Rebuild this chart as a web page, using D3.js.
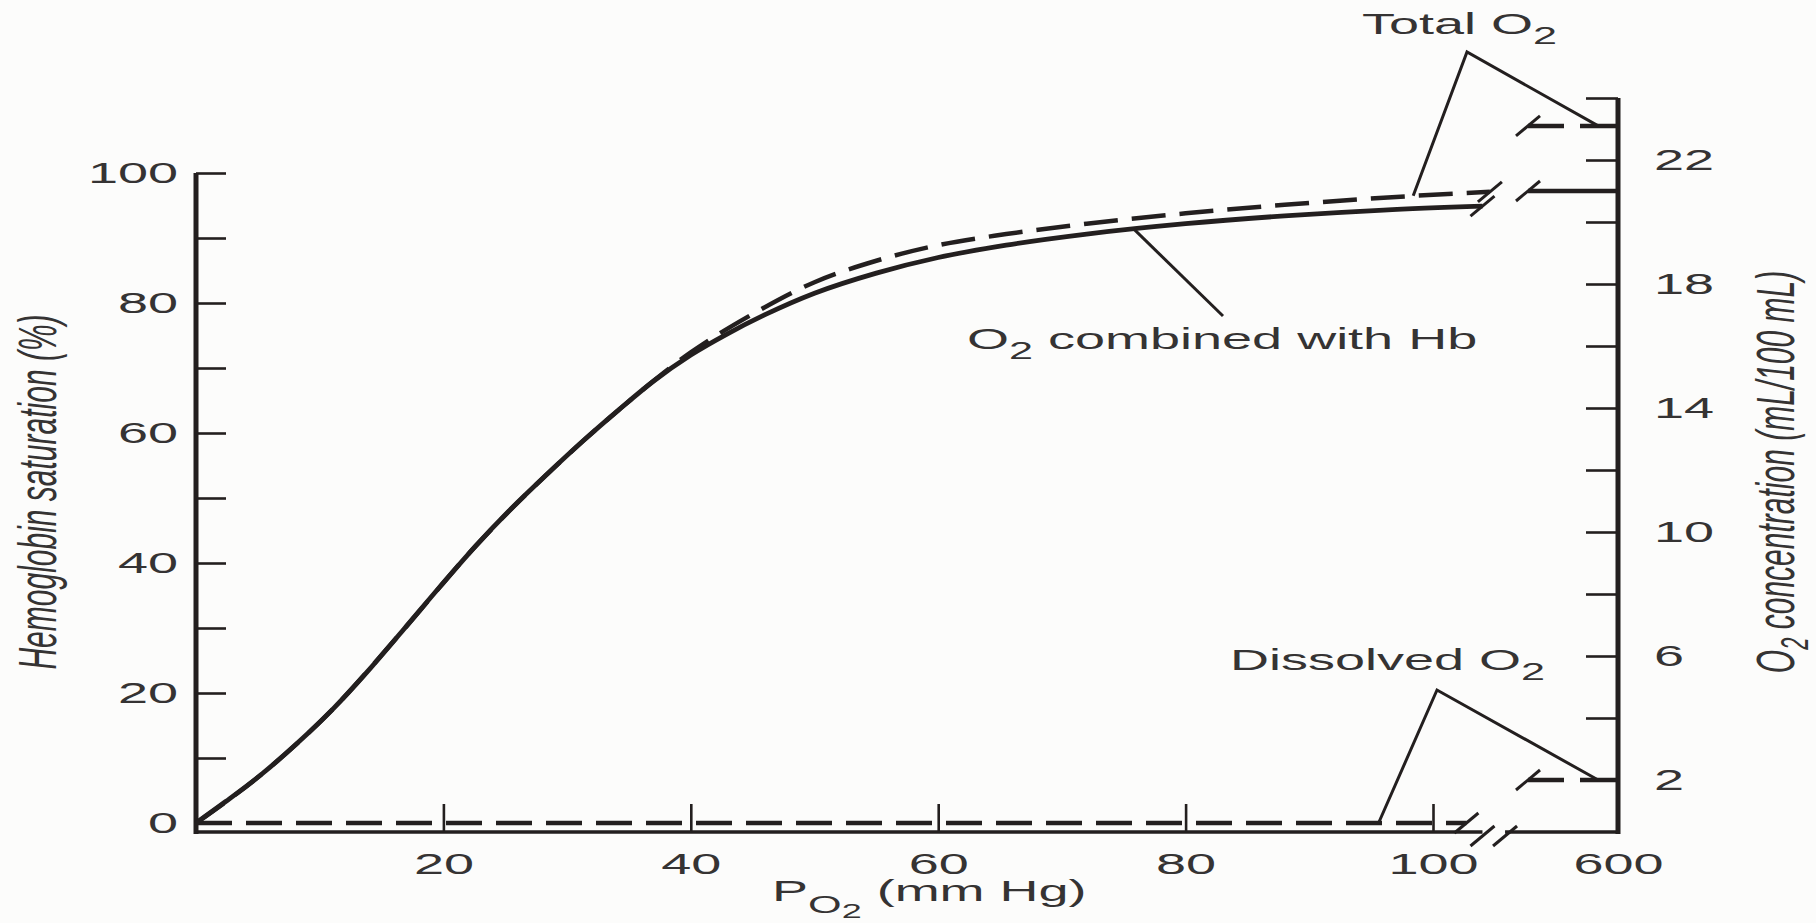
<!DOCTYPE html>
<html>
<head>
<meta charset="utf-8">
<script src="https://cdn.jsdelivr.net/npm/d3@7"></script>
<style>
  body { margin: 0; background: #fcfcfb; }
  svg { display: block; }
  text { font-family: "Liberation Sans", Arial, sans-serif; fill: #353333; }
</style>
</head>
<body>
<script>
const W = 1816, H = 923;
const SX = 1.8;          // lettering in the scan is stretched sideways
const ink = '#231f1f';

// O2 combined with Hb (% saturation) against PO2 (mm Hg)
const hbPO2 = [0, 2.4, 5.3, 8.2, 11.1, 14, 16.8, 19.7, 22.6, 25.5, 28.4, 31.3, 34.2, 37, 40, 43, 46, 50, 55, 60, 65.5, 72, 80, 88, 96, 104];
const hbSat = [0, 3.3, 7.5, 12.3, 17.6, 23.6, 29.8, 36.3, 42.6, 48.4, 53.7, 58.8, 63.6, 68, 72, 75.3, 78.2, 81.5, 84.6, 87, 88.9, 90.6, 92.2, 93.4, 94.3, 94.9];
// total O2 (dashed), same axis
const totalPO2 = [0, 5.3, 11.1, 16.8, 22.6, 28.4, 34.2, 40, 45, 50, 55, 60, 65.5, 72, 80, 88, 96, 104.6];
const totalSat = [0, 7.5, 17.6, 29.8, 42.6, 53.7, 63.6, 72.4, 78.3, 83.2, 86.5, 88.9, 90.6, 92.2, 93.8, 95.1, 96.2, 97.1];
// dissolved O2 (dashed) near the bottom
const dissolvedPO2 = [0, 102.7];
const dissolvedSat = [0, 0];
// past the axis break, read on the right axis (mL/100 mL)
const highPO2 = [500, 600];
const hbHigh = 21.0, totalHigh = 23.1, dissolvedHigh = 2.0;

const xTicks = [20, 40, 60, 80, 100];
const leftTicks = d3.range(0, 101, 10);
const leftLabels = [0, 20, 40, 60, 80, 100];
const rightTicks = d3.range(2, 25, 2);
const rightLabels = [2, 6, 10, 14, 18, 22];

const svg = d3.select('body').append('svg')
    .attr('width', W)
    .attr('height', H);

const xLo = d3.scaleLinear().domain([0, 100]).range([196, 1433]);
const xHi = d3.scaleLinear().domain([500, 600]).range([1528, 1618]);
const yL = d3.scaleLinear().domain([0, 100]).range([823, 173]);
const yR = d3.scaleLinear().domain([0, 24]).range([842, 98]);
const axisY = 832;

// stretch the tick labels like the scan
function stretch(sel) {
    sel.each(function() {
        const t = d3.select(this);
        const x = +t.attr('x') || 0, y = +t.attr('y') || 0;
        t.attr('x', null).attr('y', null)
            .attr('transform', `translate(${x},${y}) scale(${SX},1)`);
    });
}

function styleAxis(g) {
    g.attr('font-size', 30).attr('font-family', null);
    g.select('.domain').remove();
    g.selectAll('.tick line').attr('stroke', ink).attr('stroke-width', 2.6);
    g.selectAll('.tick text').attr('fill', '#353333');
    stretch(g.selectAll('.tick text'));
}

// x axis, low part
const gx = svg.append('g')
    .attr('transform', `translate(0,${axisY})`)
    .call(d3.axisBottom(xLo).tickValues(xTicks).tickSize(-28).tickPadding(21).tickSizeOuter(0));
styleAxis(gx);

// x axis, high part
const gx2 = svg.append('g')
    .attr('transform', `translate(0,${axisY})`)
    .call(d3.axisBottom(xHi).tickValues([600]).tickSize(0).tickPadding(21));
styleAxis(gx2);

// left axis
const gy = svg.append('g')
    .attr('transform', `translate(${xLo(0)},0)`)
    .call(d3.axisLeft(yL).tickValues(leftTicks).tickSize(-30).tickPadding(18)
        .tickFormat(d => leftLabels.includes(d) ? d : ''));
styleAxis(gy);

// right axis
const gy2 = svg.append('g')
    .attr('transform', `translate(${xHi(600)},0)`)
    .call(d3.axisRight(yR).tickValues(rightTicks).tickSize(-32).tickPadding(36)
        .tickFormat(d => rightLabels.includes(d) ? d : ''));
styleAxis(gy2);

// axis lines, with the break on the bottom one
const lines = svg.append('g').attr('stroke', ink).attr('fill', 'none').attr('stroke-linecap', 'butt');
const breakLo = xLo(104), breakHi = xHi(474.5);
lines.append('line').attr('x1', xLo(0)).attr('x2', breakLo).attr('y1', axisY).attr('y2', axisY).attr('stroke-width', 3.5);
lines.append('line').attr('x1', breakHi).attr('x2', xHi(600)).attr('y1', axisY).attr('y2', axisY).attr('stroke-width', 3.5);
lines.append('line').attr('x1', xLo(0)).attr('x2', xLo(0)).attr('y1', yL(100)).attr('y2', axisY + 2).attr('stroke-width', 5);
lines.append('line').attr('x1', xHi(600)).attr('x2', xHi(600)).attr('y1', yR(24)).attr('y2', axisY + 2).attr('stroke-width', 5);

function slash(cx, cy) {
    lines.append('line')
        .attr('x1', cx - 12).attr('y1', cy + 10)
        .attr('x2', cx + 12).attr('y2', cy - 10)
        .attr('stroke-width', 3);
}
slash(breakLo, axisY + 4);
slash(breakHi, axisY + 4);

// curves
const lineLo = d3.line().x(d => xLo(d[0])).y(d => yL(d[1])).curve(d3.curveMonotoneX);
const lineHi = d3.line().x(d => xHi(d[0])).y(d => yR(d[1]));

const hbData = d3.zip(hbPO2, hbSat);
const totalData = d3.zip(totalPO2, totalSat);
const dissolvedData = d3.zip(dissolvedPO2, dissolvedSat);

lines.append('path').datum(hbData).attr('d', lineLo).attr('stroke-width', 4.8);
lines.append('path').datum(totalData).attr('d', lineLo).attr('stroke-width', 4.5).attr('stroke-dasharray', '34,14');
lines.append('path').datum(dissolvedData).attr('d', lineLo).attr('stroke-width', 4.5).attr('stroke-dasharray', '36,14');

[hbData, totalData, dissolvedData].forEach(d => {
    const last = d[d.length - 1];
    slash(xLo(last[0]), yL(last[1]));
});

[[hbHigh, null], [totalHigh, '36,16'], [dissolvedHigh, '36,16']].forEach(([v, dash]) => {
    const seg = highPO2.map(p => [p, v]);
    const p = lines.append('path').datum(seg).attr('d', lineHi).attr('stroke-width', 4.5);
    if (dash) p.attr('stroke-dasharray', dash);
    slash(xHi(highPO2[0]), yR(v));
});

// labels with subscripts
function label(x, y, parts, anchor) {
    const t = svg.append('text')
        .attr('transform', `translate(${x},${y}) scale(${SX},1)`)
        .attr('font-size', 30)
        .attr('text-anchor', anchor || 'start');
    parts.forEach(p => {
        t.append('tspan').text(p[0]).attr('font-size', p[1] || 30).attr('dy', p[2] || 0);
    });
    return t;
}

// Total O2
label(1362, 34, [['Total O'], ['2', 24, 10]]);
lines.append('polyline')
    .attr('points', [[xLo(98.4), yL(96.5)], [1467, 52], [xHi(578), yR(totalHigh)]].join(' '))
    .attr('stroke-width', 3);

// O2 combined with Hb
label(967, 349, [['O'], ['2', 24, 10], [' combined with Hb', 30, -10]]);
lines.append('line')
    .attr('x1', xLo(75.8)).attr('y1', yL(91.4))
    .attr('x2', 1223).attr('y2', 316)
    .attr('stroke-width', 3);

// Dissolved O2
label(1230, 670, [['Dissolved O'], ['2', 24, 10]]);
lines.append('polyline')
    .attr('points', [[xLo(95.6), yL(0)], [1437, 690], [xHi(578), yR(dissolvedHigh)]].join(' '))
    .attr('stroke-width', 3);

// x title
label(772, 901, [['P'], ['O', 24, 12], ['2', 20, 5], [' (mm Hg)', 30, -17]]);

// y titles
svg.append('text')
    .attr('transform', `translate(56,492) scale(${SX},1) rotate(-90)`)
    .attr('font-size', 30)
    .attr('font-style', 'italic')
    .attr('text-anchor', 'middle')
    .text('Hemoglobin saturation (%)');

const rt = svg.append('text')
    .attr('transform', `translate(1794,472) scale(${SX},1) rotate(-90)`)
    .attr('font-size', 30)
    .attr('font-style', 'italic')
    .attr('text-anchor', 'middle');
rt.append('tspan').text('O');
rt.append('tspan').text('2').attr('font-size', 22).attr('dy', 8);
rt.append('tspan').text(' concentration (mL/100 mL)').attr('dy', -8);
</script>
</body>
</html>
